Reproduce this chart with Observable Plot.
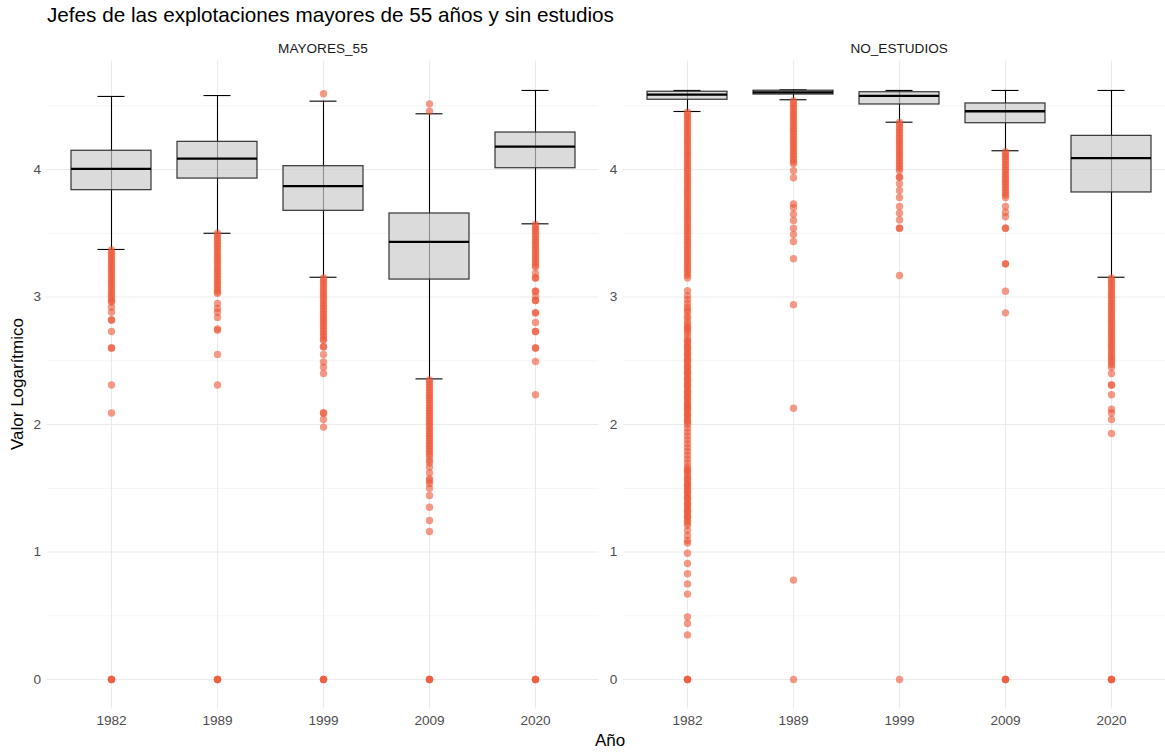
<!DOCTYPE html>
<html>
<head>
<meta charset="utf-8">
<script src="https://cdn.jsdelivr.net/npm/d3@7"></script>
<script src="https://cdn.jsdelivr.net/npm/@observablehq/plot@0.6"></script>
<style>
  body { margin: 0; background: #fff; overflow: hidden; font-family: "Liberation Sans", Arial, sans-serif; }
  #chart { position: relative; width: 1165px; height: 752px; overflow: hidden; }
  #chart svg { position: absolute; top: 0; }
  #title { position: absolute; left: 47px; top: 3px; font-size: 20.7px; color: #000; white-space: nowrap; }
  #ylab { position: absolute; left: 18px; top: 384px; font-size: 17px; color: #000; white-space: nowrap;
          transform: translate(-50%, -50%) rotate(-90deg); }
  #xlab { position: absolute; left: 610px; top: 741px; font-size: 17px; color: #000; white-space: nowrap;
          transform: translate(-50%, -50%); }
</style>
</head>
<body>
<div id="chart">
  <div id="title">Jefes de las explotaciones mayores de 55 años y sin estudios</div>
  <div id="ylab">Valor Logarítmico</div>
  <div id="xlab">Año</div>
</div>
<script>
// Census years and the two groups
const years = ["1982", "1989", "1999", "2009", "2020"];
const panelNames = ["MAYORES_55", "NO_ESTUDIOS"];
const yTicks = [0, 1, 2, 3, 4];

// Box statistics, MAYORES_55 (one value per year)
const mayoresWhiskerLow  = [3.373, 3.500, 3.155, 2.358, 3.574];
const mayoresQ1          = [3.838, 3.929, 3.676, 3.137, 4.010];
const mayoresMedian      = [4.005, 4.086, 3.869, 3.433, 4.180];
const mayoresQ3          = [4.147, 4.217, 4.026, 3.655, 4.290];
const mayoresWhiskerHigh = [4.573, 4.580, 4.536, 4.437, 4.620];

// Box statistics, NO_ESTUDIOS
const estudiosWhiskerLow  = [4.455, 4.547, 4.371, 4.147, 3.155];
const estudiosQ1          = [4.547, 4.588, 4.510, 4.363, 3.820];
const estudiosMedian      = [4.588, 4.605, 4.578, 4.457, 4.089];
const estudiosQ3          = [4.610, 4.618, 4.606, 4.518, 4.264];
const estudiosWhiskerHigh = [4.620, 4.625, 4.620, 4.620, 4.620];

// Outliers, MAYORES_55
const mayores1982 = [3.37,3.35,3.33,3.31,3.29,3.27,3.25,3.23,3.21,3.19,3.17,3.15,3.13,3.11,3.09,3.07,3.05,3.03,3.01,2.99,2.97,2.96,
  2.92,2.88,2.82,2.82,2.73,2.60,2.60,2.31,2.09,0,0,0];
const mayores1989 = [3.50,3.48,3.46,3.44,3.42,3.40,3.38,3.36,3.34,3.32,3.30,3.28,3.26,3.24,3.22,3.20,3.18,3.16,3.14,3.12,3.10,3.08,3.06,3.04,3.03,
  2.95,2.91,2.88,2.84,2.75,2.74,2.55,2.31,0,0,0];
const mayores1999 = [4.594,3.15,3.13,3.11,3.09,3.07,3.05,3.03,3.01,2.99,2.97,2.95,2.93,2.91,2.89,2.87,2.85,2.83,2.81,2.79,2.77,2.75,2.73,2.71,2.69,2.67,2.66,
  2.61,2.61,2.55,2.49,2.45,2.40,2.09,2.09,2.04,1.98,0,0,0];
const mayores2009 = [4.515,4.457,2.35,2.33,2.31,2.29,2.27,2.25,2.23,2.21,2.19,2.17,2.15,2.13,2.11,2.09,2.07,2.05,2.03,2.01,1.99,1.97,1.95,1.93,1.91,1.89,1.87,1.85,1.83,1.81,1.79,1.77,1.75,
  1.72,1.70,1.665,1.62,1.576,1.56,1.537,1.50,1.443,1.351,1.247,1.161,0,0,0];
const mayores2020 = [3.57,3.55,3.53,3.51,3.49,3.47,3.45,3.43,3.41,3.39,3.37,3.35,3.33,3.31,3.29,3.27,3.25,3.235,
  3.187,3.15,3.15,3.046,3.046,3.004,2.973,2.973,2.876,2.876,2.80,2.73,2.73,2.60,2.60,2.494,2.233,0,0,0];

// Outliers, NO_ESTUDIOS
const estudios1982 = [4.45,4.43,4.41,4.39,4.37,4.35,4.33,4.31,4.29,4.27,4.25,4.23,4.21,4.19,4.17,4.15,4.13,4.11,4.09,4.07,4.05,4.03,4.01,
  3.99,3.97,3.95,3.93,3.91,3.89,3.87,3.85,3.83,3.81,3.79,3.77,3.75,3.73,3.71,3.69,3.67,3.65,3.63,3.61,3.59,3.57,3.55,3.53,3.51,
  3.49,3.47,3.45,3.43,3.41,3.39,3.37,3.35,3.33,3.31,3.29,3.27,3.25,3.23,3.21,3.19,3.17,3.15,
  3.05,3.01,2.98,2.95,2.92,2.90,2.88,2.85,2.83,2.80,2.78,2.76,2.75,2.73,2.71,2.68,2.66,2.65,2.63,2.61,2.60,2.58,2.56,2.55,2.53,2.51,
  2.50,2.48,2.46,2.45,2.43,2.41,2.40,2.38,2.36,2.35,2.33,2.31,2.30,2.28,2.26,2.25,2.23,2.21,2.20,2.18,2.16,2.15,2.13,2.12,2.10,
  2.08,2.07,2.05,2.03,2.02,2.00,1.97,1.94,1.91,1.88,1.85,1.82,1.79,1.76,1.73,1.70,1.67,1.65,1.64,
  1.62,1.60,1.58,1.57,1.55,1.53,1.52,1.50,1.48,1.47,1.45,1.43,1.42,1.40,1.38,1.37,1.35,1.33,1.32,1.30,1.28,1.27,1.25,1.23,
  1.21,1.17,1.13,1.09,1.07,0.99,0.91,0.83,0.75,0.67,0.49,0.44,0.35,0,0,0];
const estudios1989 = [4.54,4.52,4.50,4.48,4.46,4.44,4.42,4.40,4.38,4.36,4.34,4.32,4.30,4.28,4.26,4.24,4.22,4.20,4.18,4.16,4.14,4.12,4.10,4.08,4.06,4.045,
  3.99,3.935,3.73,3.70,3.65,3.60,3.54,3.49,3.435,3.30,2.94,2.128,0.78,0];
const estudios1999 = [4.37,4.35,4.33,4.31,4.29,4.27,4.25,4.23,4.21,4.19,4.17,4.15,4.13,4.11,4.09,4.07,4.05,4.03,4.01,3.99,
  3.94,3.94,3.888,3.835,3.78,3.71,3.657,3.605,3.54,3.54,3.169,0];
const estudios2009 = [4.14,4.12,4.10,4.08,4.06,4.04,4.02,4.00,3.98,3.96,3.94,3.92,3.90,3.88,3.86,3.84,3.82,3.80,3.78,
  3.71,3.665,3.63,3.54,3.54,3.26,3.26,3.046,2.876,0,0,0];
const estudios2020 = [3.15,3.13,3.11,3.09,3.07,3.05,3.03,3.01,2.99,2.97,2.95,2.93,2.91,2.89,2.87,2.85,2.83,2.81,2.79,2.77,2.75,2.73,2.71,2.69,2.67,
  2.65,2.63,2.61,2.59,2.57,2.55,2.53,2.51,2.49,2.47,2.45,
  2.40,2.31,2.31,2.233,2.12,2.09,2.04,1.93,0,0,0];

// Tables built from the arrays above
function boxTable(lo, q1, med, q3, hi) {
  return years.map((year, i) => ({year, lo: lo[i], q1: q1[i], median: med[i], q3: q3[i], hi: hi[i]}));
}
function outlierTable(lists) {
  return lists.flatMap((vals, i) => vals.map(value => ({year: years[i], value})));
}

const panels = [
  {
    name: panelNames[0],
    boxes: boxTable(mayoresWhiskerLow, mayoresQ1, mayoresMedian, mayoresQ3, mayoresWhiskerHigh),
    outliers: outlierTable([mayores1982, mayores1989, mayores1999, mayores2009, mayores2020]),
    left: 0, width: 600, marginLeft: 46.5, marginRight: 1.7
  },
  {
    name: panelNames[1],
    boxes: boxTable(estudiosWhiskerLow, estudiosQ1, estudiosMedian, estudiosQ3, estudiosWhiskerHigh),
    outliers: outlierTable([estudios1982, estudios1989, estudios1999, estudios2009, estudios2020]),
    left: 600, width: 575, marginLeft: 22.8, marginRight: 0.6
  }
];

const gridColor = "#ebebeb";
const capInset = 26.5;

for (const p of panels) {
  const svg = Plot.plot({
    width: p.width,
    height: 752,
    marginTop: 60.5,
    marginBottom: 43.5,
    marginLeft: p.marginLeft,
    marginRight: p.marginRight,
    style: {fontFamily: "'Liberation Sans', Arial, sans-serif", fontSize: "13.6px", color: "#4d4d4d", background: "transparent"},
    x: {domain: years, paddingInner: 0.25, paddingOuter: 0.225, label: null},
    y: {domain: [-0.231, 4.851], label: null},
    marks: [
      Plot.gridY({ticks: [0.5, 1.5, 2.5, 3.5, 4.5], stroke: gridColor, strokeOpacity: 1, strokeWidth: 0.55}),
      Plot.gridY({ticks: yTicks, stroke: gridColor, strokeOpacity: 1, strokeWidth: 1.1}),
      Plot.gridX({stroke: gridColor, strokeOpacity: 1, strokeWidth: 1.1}),
      Plot.axisY({ticks: yTicks, tickFormat: d3.format("d"), tickSize: 0, tickPadding: 6, label: null}),
      Plot.axisX({tickSize: 0, tickPadding: 6, label: null}),
      Plot.text([p.name], {frameAnchor: "top", lineAnchor: "middle", dy: -12.5, fill: "#1a1a1a", fontSize: 13.6}),
      // whiskers and caps
      Plot.ruleX(p.boxes, {x: "year", y1: "lo", y2: "hi", stroke: "#000", strokeWidth: 1.1}),
      Plot.tickY(p.boxes, {x: "year", y: "lo", stroke: "#000", strokeWidth: 1.1, insetLeft: capInset, insetRight: capInset}),
      Plot.tickY(p.boxes, {x: "year", y: "hi", stroke: "#000", strokeWidth: 1.1, insetLeft: capInset, insetRight: capInset}),
      // boxes and medians
      Plot.barY(p.boxes, {x: "year", y1: "q1", y2: "q3", fill: "#cccccc", fillOpacity: 0.7, stroke: "#333", strokeWidth: 1.2}),
      Plot.tickY(p.boxes, {x: "year", y: "median", stroke: "#000", strokeWidth: 2.3}),
      // outliers
      Plot.dot(p.outliers, {x: "year", y: "value", r: 3.7, fill: "#EC5636", fillOpacity: 0.6, stroke: "none"})
    ]
  });
  svg.style.left = p.left + "px";
  document.getElementById("chart").appendChild(svg);
}
</script>
</body>
</html>
